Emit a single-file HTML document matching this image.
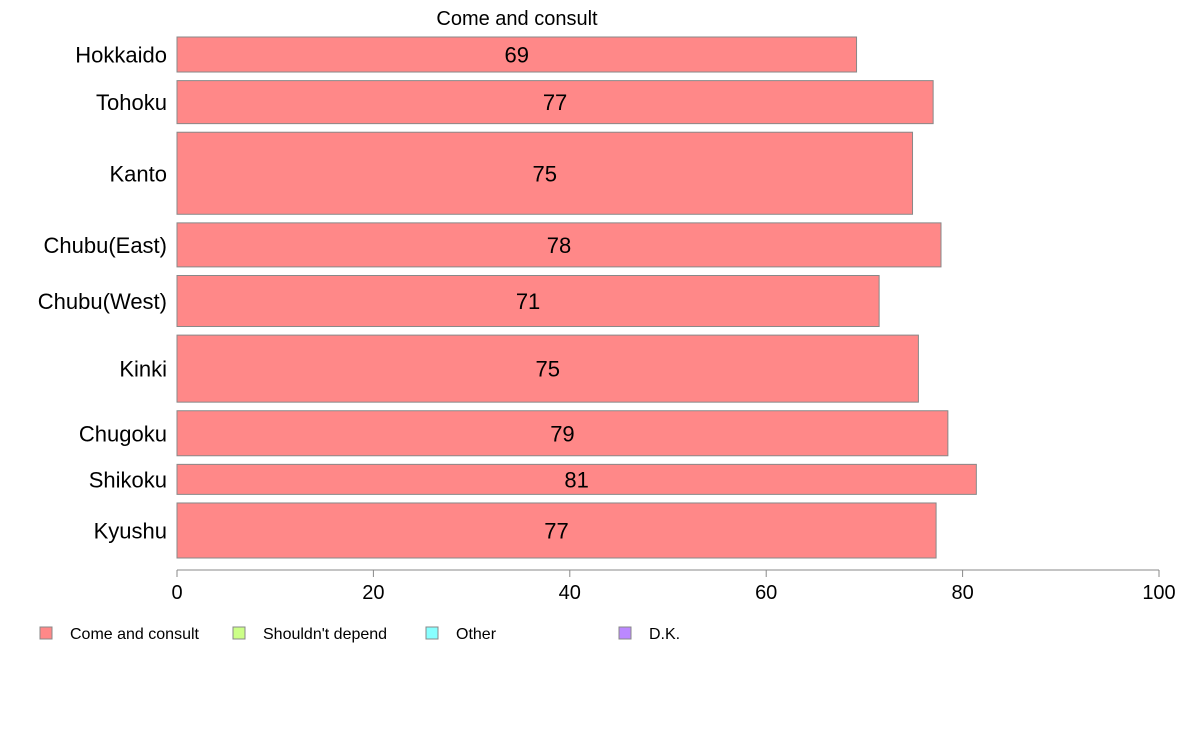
<!DOCTYPE html>
<html><head><meta charset="utf-8"><style>
body{margin:0;background:#fff;}
svg{display:block;font-family:"Liberation Sans",Arial,sans-serif;}
</style></head><body>
<svg id="chart" width="1188" height="736">
<text x="517" y="25" font-size="20" text-anchor="middle">Come and consult</text>
<g id="bars"></g>
<g id="axis"></g>
<g id="legend"></g>
</svg>
<script>
const categories=["Hokkaido","Tohoku","Kanto","Chubu(East)","Chubu(West)","Kinki","Chugoku","Shikoku","Kyushu"];
const values=[69.2,77.0,74.9,77.8,71.5,75.5,78.5,81.4,77.3];
const labels=["69","77","75","78","71","75","79","81","77"];
const weights=[35,43,82,44,51,67,45,30,55];
const ticks=[0,20,40,60,80,100];
const legendItems=["Come and consult","Shouldn't depend","Other","D.K."];
const legendColors=["#FF8888","#CCFF88","#88FFFF","#BB88FF"];

const NS="http://www.w3.org/2000/svg";
const x0=177,x1=1159,yTop=37,yBot=558,gap=8.6;
const xs=v=>x0+(v/100)*(x1-x0);
const totalW=weights.reduce((a,b)=>a+b,0);
const hScale=(yBot-yTop-gap*(weights.length-1))/totalW;
function mk(tag,attrs,parent,txt){const e=document.createElementNS(NS,tag);for(const k in attrs)e.setAttribute(k,attrs[k]);if(txt!==undefined)e.textContent=txt;parent.appendChild(e);return e;}
const gb=document.getElementById('bars');
let y=yTop;
categories.forEach((c,i)=>{
  const h=weights[i]*hScale;
  const r=mk('rect',{x:x0,y:y,width:xs(values[i])-x0,height:h,fill:'#FF8888',stroke:'#888',"stroke-width":1},gb);
  
  
  const t=mk('text',{x:(x0+xs(values[i]))/2,y:y+h/2+8,"font-size":22,"text-anchor":"middle"},gb,labels[i]);
  
  
  const cl=mk('text',{x:167,y:y+h/2+8,"font-size":22,"text-anchor":"end"},gb,c);
  
  
  y+=h+gap;
});
const ga=document.getElementById('axis');
const al=mk('line',{x1:x0,x2:x1,y1:570,y2:570,stroke:'#888'},ga);


ticks.forEach(t=>{
  const tk=mk('line',{x1:xs(t),x2:xs(t),y1:570,y2:577,stroke:'#888'},ga);
  
  
  const tl=mk('text',{x:xs(t),y:599,"font-size":20,"text-anchor":"middle"},ga,String(t));
  
  
});
const gl=document.getElementById('legend');
legendItems.forEach((n,i)=>{
  const lx=40+i*193;
  const sw=mk('rect',{x:lx,y:627,width:12,height:12,fill:legendColors[i],stroke:'#888'},gl);
  
  
  const lt=mk('text',{x:lx+30,y:639,"font-size":16},gl,n);
  
  
});
</script>
</body></html>
